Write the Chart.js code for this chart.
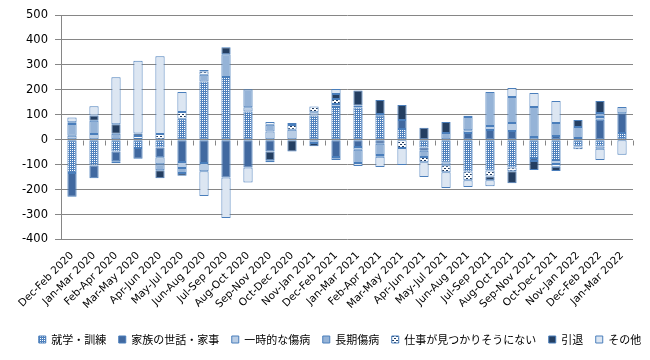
<!DOCTYPE html>
<html>
<head>
<meta charset="utf-8">
<script src="https://cdn.jsdelivr.net/npm/chart.js@4/dist/chart.umd.min.js"></script>
<style>
html,body{margin:0;padding:0;background:#fff;}
#wrap{width:650px;height:360px;position:relative;}
</style>
</head>
<body>
<div id="wrap"><canvas id="c" width="650" height="360"></canvas></div>
<script>
// ---- data ----
const categories = ["Dec-Feb 2020","Jan-Mar 2020","Feb-Apr 2020","Mar-May 2020","Apr-Jun 2020","May-Jul 2020","Jun-Aug 2020","Jul-Sep 2020","Aug-Oct 2020","Sep-Nov 2020","Oct-Dec 2020","Nov-Jan 2021","Dec-Feb 2021","Jan-Mar 2021","Feb-Apr 2021","Mar-May 2021","Apr-Jun 2021","May-Jul 2021","Jun-Aug 2021","Jul-Sep 2021","Aug-Oct 2021","Sep-Nov 2021","Oct-Dec 2021","Nov-Jan 2022","Dec-Feb 2022","Jan-Mar 2022"];
const seriesNames = ["就学・訓練","家族の世話・家事","一時的な傷病","長期傷病","仕事が見つかりそうにない","引退","その他"];
const schooling = [-133,-103,-47,-33,-31,84,233,251,113,2,0,97,131,129,96,43,-31,-91,-127,-123,-111,-73,-81,-27,-27,27];
const family    = [-96,-51,-39,-43,-39,-89,-93,-151,-111,-47,0,0,-69,-29,-16,36,-13,0,27,39,35,-12,15,7,80,79];
const tempIll   = [16,23,-8,0,-28,-24,-33,0,17,31,40,13,12,-11,7,0,0,-11,11,16,32,11,-16,0,11,25];
const longIll   = [47,53,24,3,-24,-20,27,92,72,27,0,-13,-12,-53,-45,0,-25,27,53,136,104,120,52,44,16,0];
const noJobs    = [0,0,0,12,23,27,13,0,0,11,19,23,20,8,-7,-33,-21,-28,-35,-24,-15,0,-11,-11,-9,0];
const retired   = [7,21,38,10,-32,-11,7,28,0,-35,-47,-13,20,60,56,60,48,44,5,-15,-48,-36,-17,28,48,0];
const other     = [19,37,188,292,312,80,-100,-163,-60,-8,8,0,20,-12,-41,-68,-59,-64,-28,-25,36,56,88,0,-45,-60];
const yTicks = {min:-400, max:500, step:100};

// ---- styles ----
const canvas = document.getElementById('c');
const ctx = canvas.getContext('2d');
function makePattern(bg, fg, w, h, rects){
  const pc = document.createElement('canvas');
  pc.width = w; pc.height = h;
  const p = pc.getContext('2d');
  p.fillStyle = bg; p.fillRect(0,0,w,h);
  p.fillStyle = fg;
  rects.forEach(r => p.fillRect(r[0], r[1], r[2]||1, r[3]||1));
  return ctx.createPattern(pc, 'repeat');
}
const patSchool = makePattern('#4f81bd', '#ffffff', 2, 2, [[0,0]]);
const patNoJobs = makePattern('#ffffff', '#1f3a5f', 4, 4, [[0,0,2,1],[2,2,2,1]]);
const fills = [patSchool, '#4169a0', '#b9cde5', '#95b3d7', patNoJobs, '#243f62', '#dce6f2'];
const edge = '#4a7ebb';
const gridGray = '#868686';

const values = [schooling, family, tempIll, longIll, noJobs, retired, other];
const datasets = seriesNames.map((n, i) => ({
  label: n,
  data: values[i],
  backgroundColor: fills[i],
  borderColor: edge,
  borderWidth: 1,
  borderSkipped: false,
  barPercentage: 0.42,
  categoryPercentage: 1.0,
  yAxisID: 'y'
}));

// ticks along the zero line at category boundaries
const zeroTicks = {
  id: 'zeroTicks',
  beforeDatasetsDraw(chart){
    const xs = chart.scales.x, ys = chart.scales.y;
    const y0 = Math.round(ys.getPixelForValue(0)) + 0.5;
    const c = chart.ctx;
    c.save();
    c.strokeStyle = gridGray; c.lineWidth = 1;
    const n = categories.length;
    const step = (xs.right - xs.left) / n;
    c.beginPath();
    for (let i = 0; i <= n; i++){
      const x = Math.round(xs.left + i*step) + 0.5;
      c.moveTo(x, y0); c.lineTo(x, y0 + 5);
    }
    c.stroke();
    c.restore();
  }
};
// shift legend horizontally to match reference placement
const legendShift = {
  id: 'legendShift',
  afterLayout(chart){
    const lg = chart.legend;
    if (lg){ lg.left += 15; lg.right += 15; }
  }
};

new Chart(canvas, {
  type: 'bar',
  data: { labels: categories, datasets },
  options: {
    responsive: false,
    animation: false,
    devicePixelRatio: 1,
    layout: { padding: { left: 0, right: 0, top: 15, bottom: 5 } },
    plugins: {
      legend: {
        position: 'bottom',
        labels: {
          boxWidth: 7, boxHeight: 7, padding: 12.5,
          color: '#000',
          font: { family: '"Noto Sans CJK JP", sans-serif', size: 11 }
        }
      },
      tooltip: { enabled: false }
    },
    scales: {
      x: {
        stacked: true,
        offset: true,
        grid: { display: false, drawTicks: false },
        border: { display: false },
        ticks: {
          autoSkip: false, minRotation: 45, maxRotation: 45, padding: 10,
          color: '#000',
          font: { family: '"DejaVu Sans", Verdana, sans-serif', size: 10.5 }
        },
        afterFit(s){ s.height = 82; }
      },
      y: {
        stacked: true,
        min: yTicks.min, max: yTicks.max,
        grid: { color: gridGray, lineWidth: 1, tickLength: 6, tickColor: gridGray },
        border: { display: true, color: gridGray, width: 1 },
        ticks: {
          stepSize: yTicks.step, padding: 7, color: '#000',
          font: { family: '"DejaVu Sans", Verdana, sans-serif', size: 11.5 }
        },
        afterFit(s){ s.width = 61; }
      },
      yR: {
        position: 'right',
        display: true,
        min: yTicks.min, max: yTicks.max,
        grid: { display: false, drawTicks: false },
        border: { display: false },
        ticks: { display: false },
        afterFit(s){ s.width = 17; }
      }
    }
  },
  plugins: [zeroTicks, legendShift]
});
</script>
</body>
</html>
